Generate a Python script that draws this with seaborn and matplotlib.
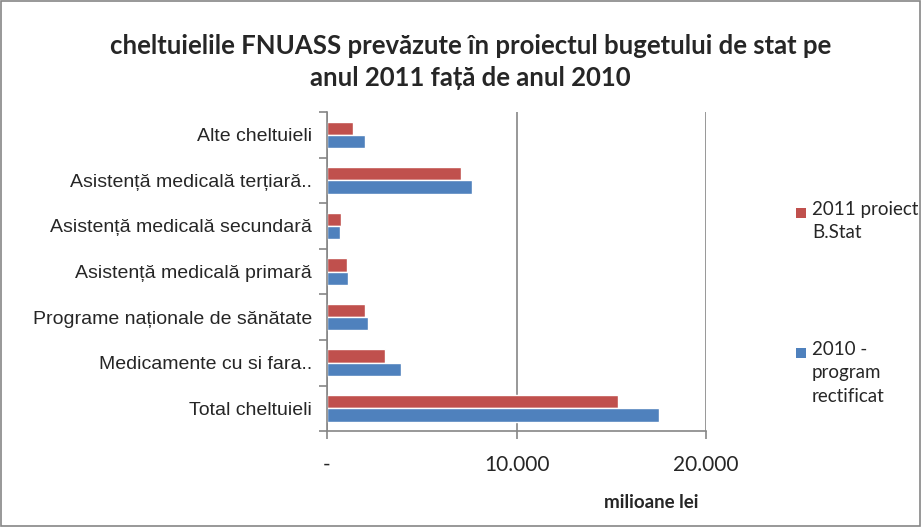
# Import the libraries.
import numpy as np
import pandas as pd
import matplotlib.pyplot as plt
import matplotlib.patches as mpatches
from matplotlib.ticker import FixedLocator
import seaborn as sns

# Data (milioane lei)
categories = ["Alte cheltuieli",
              "Asistență medicală terțiară..",
              "Asistență medicală secundară",
              "Asistență medicală primară",
              "Programe naționale de sănătate",
              "Medicamente cu si fara..",
              "Total cheltuieli"]
proiect_2011 = [1370, 7090, 740, 1070, 2020, 3070, 15370]
rectificat_2010 = [2020, 7630, 680, 1080, 2180, 3890, 17530]
series_names = ["2011 proiect\nB.Stat", "2010 -\nprogram\nrectificat"]
colors = ["#C0504D", "#4F81BD"]

data = pd.DataFrame({
    "categorie": categories * 2,
    "valoare": proiect_2011 + rectificat_2010,
    "serie": [series_names[0]] * len(categories) + [series_names[1]] * len(categories),
})

sns.set_style("white")
plt.rcParams["font.family"] = ["Liberation Sans", "DejaVu Sans"]
calibri_like = ["Lato", "DejaVu Sans"]

fig = plt.figure(figsize=(9.22, 5.27), dpi=100)
ax = fig.add_axes([0.3547, 0.182, 0.4111, 0.6055])

sns.barplot(x="valoare", y="categorie", hue="serie", data=data, orient="h",
            order=categories, hue_order=series_names, palette=colors,
            width=0.58, ax=ax, legend=False, saturation=1)

ax.set_xlim(0, 20000)
ax.set_ylim(len(categories) - 0.5, -0.5)

# Axes styling
for side in ["top", "right"]:
    ax.spines[side].set_visible(False)
for side in ["left", "bottom"]:
    ax.spines[side].set_color("#868686")
    ax.spines[side].set_linewidth(1.2)
ax.xaxis.grid(True, color="#868686", linewidth=1.2)
ax.set_axisbelow(True)

ax.set_xticks([0, 10000, 20000])
ax.set_xticklabels(["-", "10.000", "20.000"], fontsize=15, family=calibri_like)
ax.tick_params(axis="x", direction="out", length=6, color="#868686", width=1.2, pad=11, bottom=True)

ax.tick_params(axis="y", which="major", length=0, pad=11, labelsize=14)
ax.yaxis.set_minor_locator(FixedLocator(np.arange(-0.5, len(categories), 1)))
ax.tick_params(axis="y", which="minor", direction="out", length=6, color="#868686", width=1.2, left=True)

ax.set_ylabel("")
ax.set_xlabel("")
fig.text(0.706, 0.047, "milioane lei", ha="center", va="center", fontsize=13.5,
         fontweight="bold", family=calibri_like)

# Title
fig.text(0.51, 0.883, "cheltuielile FNUASS prevăzute în proiectul bugetului de stat pe\nanul 2011 față de anul 2010",
         ha="center", va="center", fontsize=18.5, fontweight="bold", linespacing=1.4,
         family=calibri_like)

# Legend, drawn as square + text so the square sits on the first line
for name, color, y in zip(series_names, colors, [213, 353]):
    yf = 1 - y / 527
    fig.patches.append(mpatches.Rectangle((796 / 922, yf - 5 / 527), 10 / 922, 10 / 527,
                                          transform=fig.transFigure, facecolor=color,
                                          edgecolor="none"))
    fig.text(812 / 922, yf + 12 / 527, name, ha="left", va="top", fontsize=13.5,
             family=calibri_like, linespacing=1.45)

# Border around the figure
fig.patches.append(mpatches.Rectangle((0.001, 0.002), 0.997, 0.996, transform=fig.transFigure,
                                      fill=False, edgecolor="#868686", linewidth=1.2))

plt.savefig("out.png", dpi=100)
